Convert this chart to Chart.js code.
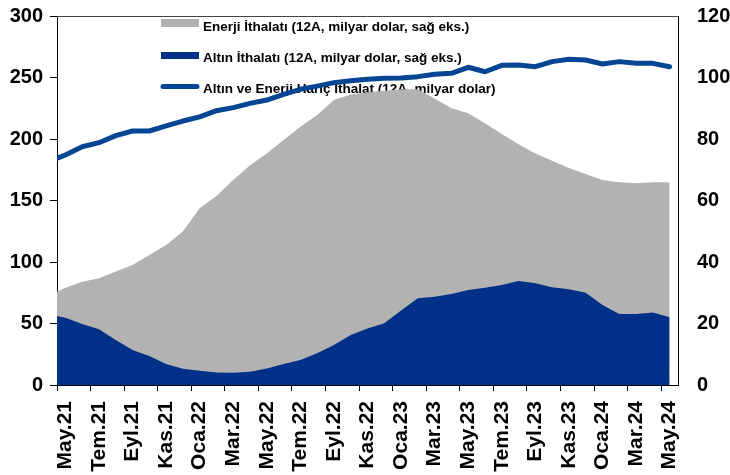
<!DOCTYPE html>
<html>
<head>
<meta charset="utf-8">
<script src="https://cdn.jsdelivr.net/npm/chart.js@4"></script>
<style>
  html, body { margin: 0; padding: 0; background: #fff; }
  canvas { display: block; }
</style>
</head>
<body>
<canvas id="chart" width="730" height="475"></canvas>
<script>
// Aylar (ilk ay grafiğin sol kenarında kısmen görünüyor)
const categories = [
  'Nis.21', 'May.21', 'Haz.21', 'Tem.21', 'Ağu.21', 'Eyl.21', 'Eki.21', 'Kas.21', 'Ara.21',
  'Oca.22', 'Şub.22', 'Mar.22', 'Nis.22', 'May.22', 'Haz.22', 'Tem.22', 'Ağu.22', 'Eyl.22', 'Eki.22', 'Kas.22', 'Ara.22',
  'Oca.23', 'Şub.23', 'Mar.23', 'Nis.23', 'May.23', 'Haz.23', 'Tem.23', 'Ağu.23', 'Eyl.23', 'Eki.23', 'Kas.23', 'Ara.23',
  'Oca.24', 'Şub.24', 'Mar.24', 'Nis.24', 'May.24'
];

// Enerji ithalatı (12A, milyar dolar, sağ eksen)
const energyImports = [
  29.0, 31.6, 33.6, 34.7, 36.9, 39.0, 42.3, 45.5, 49.9,
  57.5, 61.5, 66.7, 71.5, 75.3, 79.7, 84.0, 87.8, 92.7, 94.5, 95.2, 95.7,
  96.2, 96.2, 93.2, 90.0, 88.4, 85.1, 81.6, 78.3, 75.3, 72.9, 70.6, 68.6,
  66.7, 65.9, 65.6, 65.9, 65.9
];

// Altın ithalatı (12A, milyar dolar, sağ eksen)
const goldImports = [
  22.9, 21.9, 19.8, 18.1, 14.6, 11.4, 9.4, 6.8, 5.3,
  4.6, 4.1, 4.0, 4.3, 5.4, 6.8, 8.1, 10.3, 13.0, 16.3, 18.4, 20.1,
  24.2, 28.2, 28.7, 29.6, 30.9, 31.6, 32.5, 33.8, 33.1, 31.8, 31.1, 30.0,
  26.0, 23.1, 23.1, 23.6, 22.0
];

// Altın ve enerji hariç ithalat (12A, milyar dolar, sol eksen)
const coreImports = [
  181.6, 187.0, 193.7, 197.0, 202.7, 206.5, 206.5, 210.6, 214.6,
  218.0, 223.0, 225.5, 229.0, 231.7, 236.3, 240.4, 243.0, 245.8, 247.4, 248.5, 249.3,
  249.6, 250.7, 252.6, 253.4, 258.3, 254.7, 259.9, 260.2, 258.8, 262.9, 264.8, 264.2,
  261.0, 262.9, 261.5, 261.5, 258.8
];

const leftTicks = [0, 50, 100, 150, 200, 250, 300];
const rightTicks = [0, 20, 40, 60, 80, 100, 120];

const seriesLabels = [
  'Enerji İthalatı (12A, milyar dolar, sağ eks.)',
  'Altın İthalatı (12A, milyar dolar, sağ eks.)',
  'Altın ve Enerji Hariç İthalat (12A, milyar dolar)'
];

const FONT = '"Liberation Sans", Arial, sans-serif';
const GRAY = '#b2b2b2';
const NAVY = '#003087';
const LINE_BLUE = '#054593';

const toPoints = (arr) => arr.map((v, i) => ({ x: i, y: v }));

// x ekseninde her iki ayda bir etiket (tik işaretleri ay sınırında)
const xTickValues = [];
for (let i = 1; i < categories.length; i += 2) xTickValues.push(i - 0.5);

// dikey eksenlerin etiket taşma payını kaldır (grafik alanı üstte 16px'den başlasın)
function fixVertical(width) {
  return (axis) => {
    axis.width = width;
    axis.paddingTop = 0;
    axis.paddingBottom = 0;
  };
}

// Lejant (çizgi üstünden geçtiği için veri setlerinden önce çiziliyor) ve üst çerçeve
const legendPlugin = {
  id: 'insideLegend',
  beforeDatasetsDraw(chart) {
    const ctx = chart.ctx;
    const ds = chart.data.datasets;
    ctx.save();
    ctx.font = 'bold 13.5px ' + FONT;
    ctx.fillStyle = '#000';
    ctx.textAlign = 'left';
    ctx.textBaseline = 'alphabetic';

    // enerji
    ctx.fillStyle = ds[0].backgroundColor;
    ctx.fillRect(161, 19, 38, 8);
    ctx.fillStyle = '#000';
    ctx.fillText(ds[0].label, 203, 31);

    // altın
    ctx.fillStyle = ds[1].backgroundColor;
    ctx.fillRect(161, 52, 38, 7);
    ctx.fillStyle = '#000';
    ctx.fillText(ds[1].label, 203, 62);

    // çizgi
    ctx.strokeStyle = ds[2].borderColor;
    ctx.lineWidth = 5;
    ctx.lineCap = 'round';
    ctx.beginPath();
    ctx.moveTo(163, 86.5);
    ctx.lineTo(197, 86.5);
    ctx.stroke();
    ctx.fillStyle = '#000';
    ctx.fillText(ds[2].label, 203, 92.5);
    ctx.restore();
  },
  afterDraw(chart) {
    const { ctx, chartArea } = chart;
    ctx.save();
    ctx.strokeStyle = '#444';
    ctx.lineWidth = 1;
    ctx.beginPath();
    ctx.moveTo(chartArea.left, chartArea.top + 0.5);
    ctx.lineTo(chartArea.right, chartArea.top + 0.5);
    ctx.stroke();
    ctx.restore();
  }
};

const ctx = document.getElementById('chart').getContext('2d');
const chart = new Chart(ctx, {
  type: 'line',
  data: {
    datasets: [
      {
        label: seriesLabels[0],
        data: toPoints(energyImports),
        yAxisID: 'y2',
        backgroundColor: GRAY,
        borderWidth: 0,
        pointRadius: 0,
        fill: 'origin',
        clip: 0,
        order: 3
      },
      {
        label: seriesLabels[1],
        data: toPoints(goldImports),
        yAxisID: 'y2',
        backgroundColor: NAVY,
        borderWidth: 0,
        pointRadius: 0,
        fill: 'origin',
        clip: 0,
        order: 2
      },
      {
        label: seriesLabels[2],
        data: toPoints(coreImports),
        yAxisID: 'y',
        borderColor: LINE_BLUE,
        backgroundColor: LINE_BLUE,
        borderWidth: 5,
        borderJoinStyle: 'round',
        borderCapStyle: 'round',
        pointRadius: 0,
        fill: false,
        clip: 0,
        order: 1
      }
    ]
  },
  options: {
    responsive: false,
    animation: false,
    events: [],
    layout: { padding: { top: 16, right: 0, bottom: 0, left: 0 } },
    plugins: {
      legend: { display: false },
      tooltip: { enabled: false }
    },
    scales: {
      x: {
        type: 'linear',
        min: 0.5,
        max: categories.length - 0.5,
        afterBuildTicks: (axis) => {
          axis.ticks = xTickValues.map((v) => ({ value: v }));
        },
        afterFit: (axis) => { axis.height = 90; },
        grid: { display: true, drawOnChartArea: false, tickLength: 6, color: '#000' },
        border: { display: true, color: '#000', width: 1 },
        ticks: {
          autoSkip: false,
          minRotation: 90,
          maxRotation: 90,
          labelOffset: 8.4,
          padding: 10,
          color: '#000',
          font: { family: FONT, size: 21, weight: 'bold' },
          callback: (v) => categories[Math.round(v + 0.5)]
        }
      },
      y: {
        position: 'left',
        min: 0,
        max: 300,
        afterBuildTicks: (axis) => {
          axis.ticks = leftTicks.map((v) => ({ value: v }));
        },
        afterFit: fixVertical(57),
        grid: { display: true, drawOnChartArea: false, tickLength: 7, color: '#000' },
        border: { display: true, color: '#000', width: 1 },
        ticks: {
          padding: 7,
          color: '#000',
          font: { family: FONT, size: 20, weight: 'bold' }
        }
      },
      y2: {
        position: 'right',
        min: 0,
        max: 120,
        afterBuildTicks: (axis) => {
          axis.ticks = rightTicks.map((v) => ({ value: v }));
        },
        afterFit: fixVertical(52),
        grid: { display: true, drawOnChartArea: false, drawTicks: false },
        border: { display: true, color: '#000', width: 1 },
        ticks: {
          padding: 19,
          color: '#000',
          font: { family: FONT, size: 20, weight: 'bold' }
        }
      }
    }
  },
  plugins: [legendPlugin]
});
</script>
</body>
</html>
